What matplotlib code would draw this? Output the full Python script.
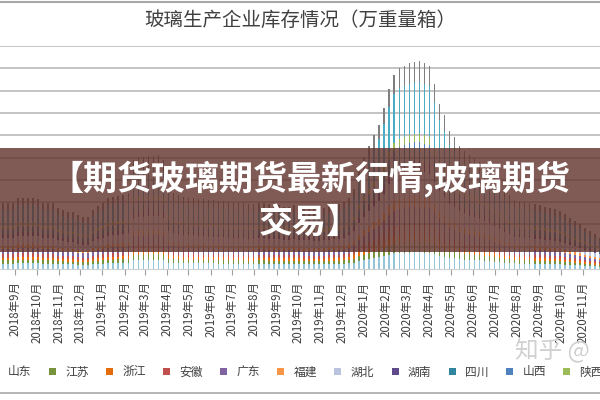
import numpy as np
import pandas as pd
import matplotlib
matplotlib.use("Agg")
import matplotlib.pyplot as plt
import matplotlib.dates as mdates
from matplotlib.patches import Rectangle
from matplotlib.lines import Line2D

plt.rcParams['font.family'] = ['Noto Sans CJK SC', 'DejaVu Sans']

# settimane (dati settimanali)
weeks = pd.date_range('2018-08-15', periods=120, freq='7D')

# totale stimato per settimana (万重量箱)
total = [1480, 1480, 1480, 1590, 1590, 1590, 1590, 1565, 1480, 1480,
         1480, 1365, 1325, 1275, 1275, 1210, 1165, 1165, 1325, 1410,
         1480, 1590, 1610, 1640, 1660, 1700, 2450, 2500, 2500, 2525,
         2525, 2550, 2450, 1800, 1700, 1650, 1625, 1600, 1600, 1575,
         1575, 1550, 1550, 1525, 1525, 1500, 1500, 1475, 1475, 1450,
         1450, 1475, 1475, 1450, 1425, 1425, 1400, 1400, 1425, 1400,
         1375, 1375, 1350, 1350, 1375, 1400, 1425, 1450, 1500, 1600,
         1800, 2200, 2500, 2750, 3000, 3230, 3600, 4035, 4350, 4500,
         4560, 4620, 4650, 4665, 4610, 4550, 4150, 3700, 3450, 3100,
         2950, 2750, 2650, 2550, 2475, 2400, 2300, 2200, 2050, 1900,
         1750, 1650, 1550, 1525, 1500, 1475, 1450, 1425, 1400, 1375,
         1350, 1300, 1225, 1150, 1075, 1000, 925, 850, 775, 700]

provinces = ['山东', '江苏', '浙江', '安徽', '广东', '福建', '湖北',
             '湖南', '四川', '山西', '陕西', '河北', '其他']
shares = [0.08, 0.05, 0.04, 0.05, 0.08, 0.05, 0.12,
          0.05, 0.06, 0.03, 0.04, 0.25, 0.10]
colors = ['#93c4d8', '#77933c', '#e46c0a', '#c0504d', '#8064a2', '#f79646', '#b9c3dd',
          '#5f4b8b', '#31859c', '#4f81bd', '#9bbb59', '#4bacc6', '#7f7f7f']

months = pd.date_range('2018-09-01', '2020-11-01', freq='MS')
month_labels = [f"{d.year}年{d.month}月" for d in months]

fig = plt.figure(figsize=(6, 4), dpi=100)
fig.patch.set_facecolor('white')
ax = fig.add_axes([0, 1 - 269 / 400, 1, 223 / 400])

x = mdates.date2num(weeks)
bottom = np.zeros(len(total))
for name, share, color in zip(provinces, shares, colors):
    seg = np.array(total) * share
    ax.bar(x, seg, width=2.1, bottom=bottom, color=color, label=name,
           linewidth=0, zorder=2)
    bottom += seg

ax.set_xlim(mdates.date2num(pd.Timestamp('2018-08-11 02:00')),
            mdates.date2num(pd.Timestamp('2020-11-25')))
ax.set_ylim(0, 5000)
ax.set_yticks(np.arange(500, 5001, 500))
ax.yaxis.grid(True, color='#b4b4b4', linewidth=1.1, zorder=0)
ax.set_axisbelow(True)
ax.tick_params(axis='y', left=False, labelleft=False)

ax.set_xticks(mdates.date2num(months))
ax.set_xticklabels(month_labels, rotation=90, fontsize=8.3, color='#404040')
ax.tick_params(axis='x', length=4, color='#a0a0a0', pad=5)

for s in ['left', 'right', 'top']:
    ax.spines[s].set_visible(False)
ax.spines['bottom'].set_color('#d0d0d0')

# titolo
fig.text(0.5, 1 - 20 / 400, '玻璃生产企业库存情况（万重量箱）', ha='center', va='center',
         fontsize=14, color='#404040')

# legenda
fig.legend(loc='center left', bbox_to_anchor=(-8.5 / 600, 1 - 372 / 400), ncol=13,
           frameon=False, fontsize=8.5, handlelength=0.6, handleheight=0.6,
           handletextpad=0.8, columnspacing=1.45, borderpad=0, borderaxespad=0,
           labelcolor='#404040')

# linee di cornice
fig.add_artist(Line2D([0, 1], [1 - 1.5 / 400] * 2, color='#a8a8a8', lw=1.5))
fig.add_artist(Line2D([0, 1], [1 - 393 / 400] * 2, color='#a8a8a8', lw=1.2))

# banner
fig.add_artist(Rectangle((0, 1 - 252 / 400), 1, 104 / 400, transform=fig.transFigure,
                         facecolor='#60312a', alpha=0.8, edgecolor='none', zorder=5))
fig.text(310 / 600, 1 - 200 / 400, '【期货玻璃期货最新行情,玻璃期货\n交易】',
         ha='center', va='center', multialignment='center', fontsize=24.5,
         fontweight='bold', color='white', linespacing=1.25, zorder=6)

# watermark
fig.text(515 / 600, 1 - 350 / 400, '知乎 @', ha='left', va='center', fontsize=17,
         color='#d0d0d0', zorder=6)

fig.savefig('out.png', dpi=100)
